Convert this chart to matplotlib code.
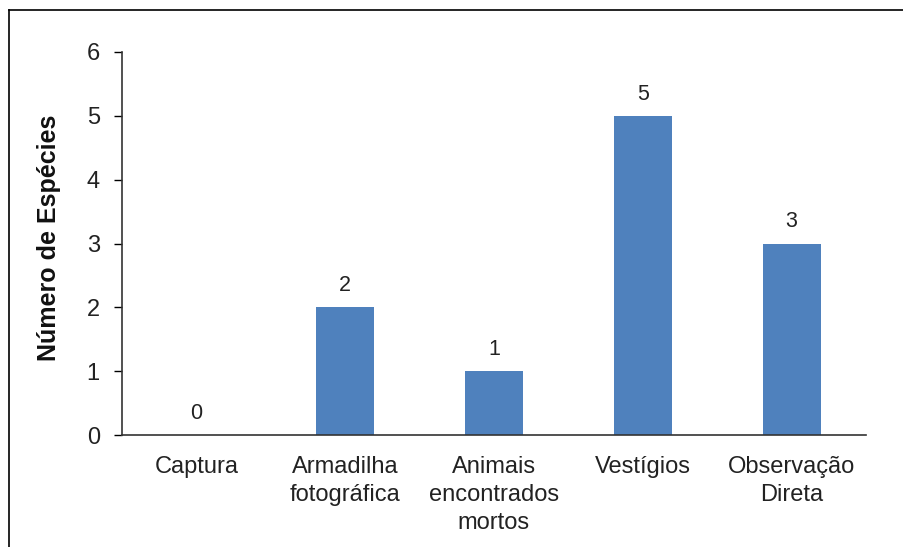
import matplotlib
matplotlib.use("Agg")
import matplotlib.pyplot as plt
from matplotlib.lines import Line2D

categories = ["Captura", "Armadilha\nfotográfica", "Animais\nencontrados\nmortos", "Vestígios", "Observação\nDireta"]
values = [0, 2, 1, 5, 3]
yticks = [0, 1, 2, 3, 4, 5, 6]

plt.rcParams['font.family'] = ['Liberation Sans', 'DejaVu Sans']

W, H = 904, 547
fig = plt.figure(figsize=(W/100, H/100), dpi=100)
ax = fig.add_axes([122/W, 1-435/H, (866-122)/W, (435-52)/H])

x = list(range(len(categories)))
ax.bar(x, values, width=0.39, color="#4F81BD")
for xi, v in zip(x, values):
    ax.annotate(str(v), (xi, v), xytext=(0, 8), textcoords="offset points",
                ha="center", va="bottom", fontsize=15.5, color="#222222")

ax.set_xlim(-0.5, len(categories)-0.5)
ax.set_ylim(0, 6)
ax.set_yticks(yticks)
ax.set_yticklabels([str(t) for t in yticks], fontsize=17, color="#222222")
ax.set_xticks(x)
ax.set_xticklabels(categories, fontsize=17, color="#222222", linespacing=1.35)
ax.tick_params(axis="x", length=0, pad=15)
ax.tick_params(axis="y", direction="out", length=6, width=1, pad=10)
for s in ["top", "right"]:
    ax.spines[s].set_visible(False)
for s in ["left", "bottom"]:
    ax.spines[s].set_linewidth(1.2)
    ax.spines[s].set_color("#333333")
ax.set_ylabel("Número de Espécies", fontsize=18, fontweight="bold", color="#111111")
ax.yaxis.set_label_coords(-(122-61)/(866-122), 0.515)

# figure border (left and top visible)
fig.add_artist(Line2D([8.5/W, 8.5/W], [0, 1-10/H], transform=fig.transFigure, color="black", lw=1.2))
fig.add_artist(Line2D([8.5/W, 1], [1-10/H, 1-10/H], transform=fig.transFigure, color="black", lw=1.2))

fig.savefig("out.png", dpi=100)
